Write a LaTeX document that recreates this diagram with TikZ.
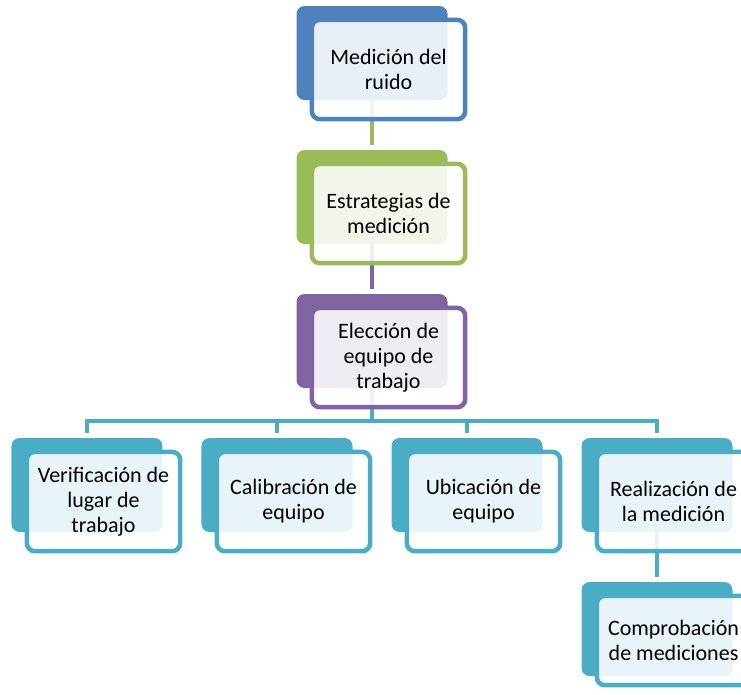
\documentclass[tikz,border=0pt]{standalone}
\usepackage{fontspec}
\setmainfont{Carlito}
\usepackage{tikz}
\usetikzlibrary{positioning, backgrounds}

\definecolor{medblue}{HTML}{4F81BD}
\definecolor{estgreen}{HTML}{9BBB59}
\definecolor{elepurple}{HTML}{8064A2}
\definecolor{subteal}{HTML}{4BACC6}

\begin{document}
\begin{tikzpicture}[
    font=\fontsize{16.5}{18.75}\selectfont,
    node distance=37.5pt and 29.25pt,
    back/.style  = {rectangle, rounded corners=6pt, draw=none,
                    minimum width=113.25pt, minimum height=70.5pt,
                    inner sep=0pt, outer sep=0pt},
    front/.style = {rectangle, rounded corners=6pt, line width=3.4pt,
                    fill=white, fill opacity=0.88, text opacity=1,
                    minimum width=115pt, minimum height=74.5pt,
                    align=center, inner sep=2pt},
    link/.style  = {line width=3pt, shorten >=4pt},
]

% picture frame
\useasboundingbox (-279pt,39.75pt) rectangle (276.75pt,-480.75pt);
\clip (-279pt,39.75pt) rectangle (276.75pt,-480.75pt);

% back plates
\node[back, fill=medblue] (medB) at (0,0) {};
\node[back, fill=estgreen, below=of medB] (estB) {};
\node[back, fill=elepurple, below=of estB] (eleB) {};

\node[back, fill=subteal, below=of eleB, xshift=-71.25pt] (calB) {};
\node[back, fill=subteal, left=of calB]  (verB) {};
\node[back, fill=subteal, right=of calB] (ubiB) {};
\node[back, fill=subteal, right=of ubiB] (reaB) {};
\node[back, fill=subteal, below=of reaB] (comB) {};

% front boxes
\node[front, draw=medblue]   (med) at ([shift={(12.4pt,-12.4pt)}]medB.center)
    {Medición del\\ruido};
\node[front, draw=estgreen]  (est) at ([shift={(12.4pt,-12.4pt)}]estB.center)
    {Estrategias de\\medición};
\node[front, draw=elepurple] (ele) at ([shift={(12.4pt,-12.4pt)}]eleB.center)
    {Elección de\\equipo de\\trabajo};
\node[front, draw=subteal]   (ver) at ([shift={(12.4pt,-12.4pt)}]verB.center)
    {Verificación de\\lugar de\\trabajo};
\node[front, draw=subteal]   (cal) at ([shift={(12.4pt,-12.4pt)}]calB.center)
    {Calibración de\\equipo};
\node[front, draw=subteal]   (ubi) at ([shift={(12.4pt,-12.4pt)}]ubiB.center)
    {Ubicación de\\equipo};
\node[front, draw=subteal]   (rea) at ([shift={(12.4pt,-12.4pt)}]reaB.center)
    {Realización de\\la medición};
\node[front, draw=subteal, minimum height=67pt] (com)
    at ([shift={(12.4pt,-8.65pt)}]comB.center)
    {Comprobación\\de mediciones};

% connectors
\begin{pgfonlayer}{background}
  \coordinate (bus) at ([yshift=-25pt]eleB.south);
  \draw[link, estgreen]  (medB.center) -- (estB.north);
  \draw[link, elepurple] (estB.center) -- (eleB.north);
  \draw[link, subteal]   (eleB.center) -- (bus) -| (verB.north);
  \draw[link, subteal]   (bus) -| (calB.north);
  \draw[link, subteal]   (bus) -| (ubiB.north);
  \draw[link, subteal]   (bus) -| (reaB.north);
  \draw[link, subteal]   (reaB.center) -- (comB.north);
\end{pgfonlayer}

\end{tikzpicture}
\end{document}
